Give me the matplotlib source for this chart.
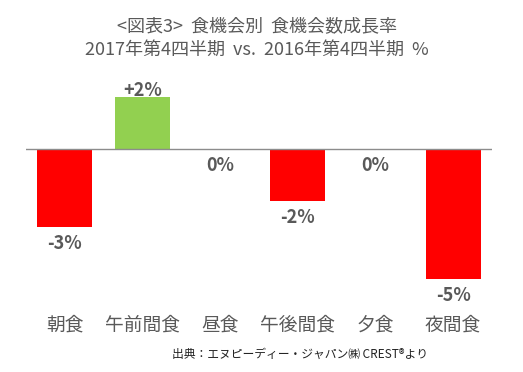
import matplotlib.pyplot as plt

# ------ Données ------
categories = ["朝食", "午前間食", "昼食", "午後間食", "夕食", "夜間食"]
growth = [-3, 2, 0, -2, 0, -5]
labels = ["-3%", "+2%", "0%", "-2%", "0%", "-5%"]
title = "<図表3>  食機会別  食機会数成長率\n2017年第4四半期  vs.  2016年第4四半期  %"
source = "出典：エヌピーディー・ジャパン㈱ CREST®より"

plt.rcParams['font.family'] = ['Noto Sans CJK JP', 'DejaVu Sans']
GRAY = "#595959"

W, H = 523, 372
fig = plt.figure(figsize=(W / 100, H / 100), dpi=100)

# axes placement in pixels
left, right, top, bottom, zero_y, px_per_unit = 26, 492, 90, 290, 149, 26
ax = fig.add_axes([left / W, 1 - bottom / H, (right - left) / W, (bottom - top) / H])
ax.set_ylim(-(bottom - zero_y) / px_per_unit, (zero_y - top) / px_per_unit)
ax.set_xlim(-0.5, len(categories) - 0.5)

x = range(len(categories))
colors = ["#92D050" if v > 0 else "#FF0000" for v in growth]
ax.bar(x, growth, width=0.71, color=colors, zorder=2)
ax.axhline(0, color="#8c8c8c", linewidth=1, zorder=3)

for i, (v, lab) in enumerate(zip(growth, labels)):
    if v > 0:
        ax.annotate(lab, (i, v), xytext=(0, -2), textcoords="offset points",
                    ha="center", va="bottom", fontsize=13, fontweight="bold", color=GRAY)
    else:
        ax.annotate(lab, (i, v), xytext=(0, -5), textcoords="offset points",
                    ha="center", va="top", fontsize=13, fontweight="bold", color=GRAY)

ax.set_xticks(list(x))
ax.set_xticklabels(categories, fontsize=13.5, color=GRAY)
ax.tick_params(axis="x", length=0, pad=18)
ax.set_yticks([])
for s in ax.spines.values():
    s.set_visible(False)

fig.text(257 / W, 1 - 38 / H, title, ha="center", va="center", fontsize=13,
         color=GRAY, linespacing=1.45)
fig.text(172 / W, 1 - 354 / H, source, ha="left", va="center", fontsize=8.5, color="#222222")

fig.savefig("out.png", dpi=100)
